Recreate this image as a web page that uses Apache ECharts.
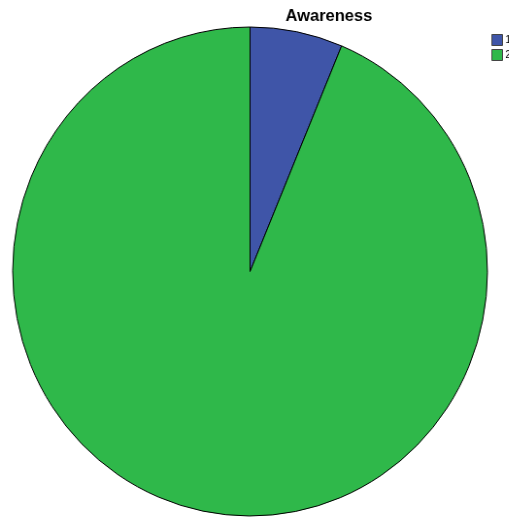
<!DOCTYPE html>
<html>
<head>
<meta charset="utf-8">
<script src="https://cdn.jsdelivr.net/npm/echarts@6/dist/echarts.min.js"></script>
<style>
html, body { margin: 0; padding: 0; background: #fff; overflow: hidden; width: 509px; height: 519px; }
/* the reference pie is slightly squeezed horizontally; the legend text runs off the right edge */
#main { width: 560px; height: 519px; transform: scaleX(0.971); transform-origin: 0 0; }
</style>
</head>
<body>
<div id="main"></div>
<script>
var categories = ['1', '2'];
var values = [6.3, 93.7];
var colors = ['#3f55a8', '#2fb84a'];

var myChart = echarts.init(document.getElementById('main'));
var option = {
    backgroundColor: '#fff',
    animation: false,
    title: {
        text: 'Awareness',
        left: 289,
        top: 3,
        textStyle: {
            fontFamily: 'Liberation Sans',
            fontWeight: 'bold',
            fontSize: 17,
            color: '#000'
        }
    },
    legend: {
        orient: 'vertical',
        left: 501,
        top: 29,
        itemWidth: 11,
        itemHeight: 11,
        itemGap: 3,
        icon: 'rect',
        itemStyle: { borderColor: '#444', borderWidth: 1 },
        textStyle: { fontFamily: 'Liberation Sans', fontSize: 10, color: '#000', padding: [0, 0, 0, -2] },
        data: categories
    },
    series: [{
        type: 'pie',
        center: [257.5, 271.5],
        radius: 244.5,
        startAngle: 90,
        clockwise: true,
        label: { show: false },
        labelLine: { show: false },
        itemStyle: { borderColor: '#000', borderWidth: 1 },
        emphasis: { disabled: true },
        data: categories.map(function (c, i) {
            return { name: c, value: values[i], itemStyle: { color: colors[i] } };
        })
    }]
};
myChart.setOption(option);
</script>
</body>
</html>
